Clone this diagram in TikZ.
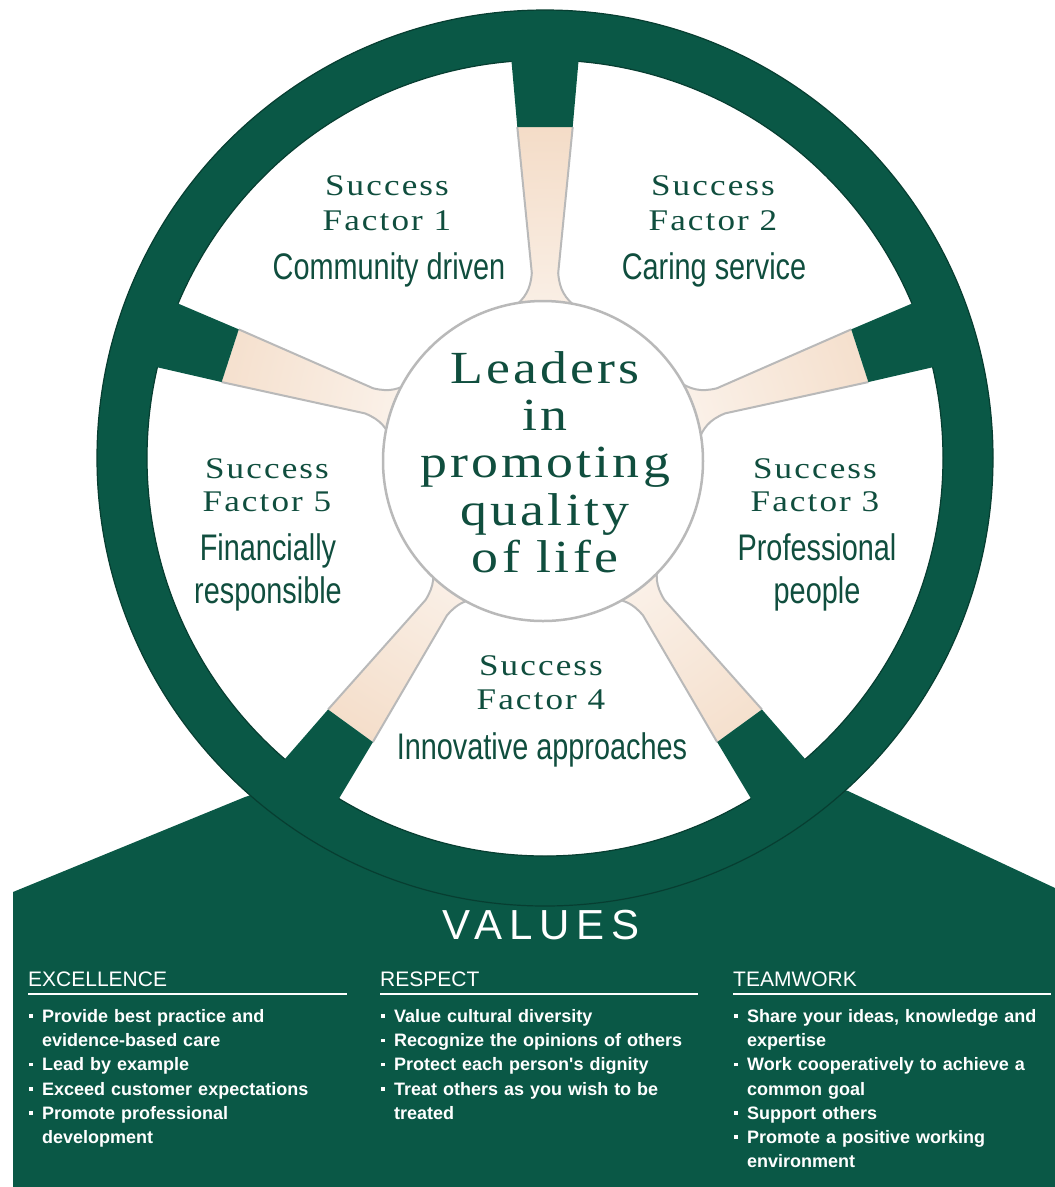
\documentclass[tikz,border=0pt]{standalone}
\usepackage{fontspec}
\setmainfont{Liberation Serif}
\newfontfamily\serifwide[LetterSpace=7,FakeStretch=1.17]{Liberation Serif}
\newfontfamily\narrowsans[FakeStretch=0.78]{Liberation Sans}
\newfontfamily\plainsans{Liberation Sans}
\newfontfamily\valuesfont[LetterSpace=16]{Liberation Sans}

\definecolor{wheelgreen}{RGB}{10,88,70}
\definecolor{inkgreen}{RGB}{16,78,62}
\definecolor{spokebeige}{RGB}{243,218,196}

\newcommand{\valitem}[1]{\par\noindent\makebox[14pt][l]{\hspace{1pt}\rule[4.5pt]{3.5pt}{3.5pt}}#1}
\newcommand{\valmore}[1]{\par\noindent\hspace*{14pt}#1}

\begin{document}
\begin{tikzpicture}[x=1pt,y=1pt,
  factorhead/.style={font=\serifwide\fontsize{30}{30}\selectfont, text=inkgreen, anchor=base, inner sep=0},
  factorname/.style={font=\narrowsans\fontsize{37}{37}\selectfont, text=inkgreen, anchor=base, inner sep=0},
  hubline/.style={font=\serifwide\fontsize{46}{46}\selectfont, text=inkgreen, anchor=base, inner sep=0},
  valhead/.style={font=\plainsans\fontsize{21}{21}\selectfont, text=white, anchor=base west, inner sep=0},
  vallist/.style={font=\plainsans\bfseries\fontsize{18}{24.2}\selectfont, text=white, anchor=north west, inner sep=0, text width=330pt, align=left},
  valrule/.style={white, line width=2pt},
  spokeedge/.style={draw=gray!55, line width=2pt}]
\path[use as bounding box, fill=white] (0,0) rectangle (1055,-1187);
\coordinate (wc) at (545,-458);
\coordinate (hc) at (543,-461);

% values block behind the wheel
\fill[wheelgreen] (13,-892) -- (245,-797) -- (545,-700) -- (848,-791)
  -- (1055,-888) -- (1055,-1187) -- (13,-1187) -- cycle;

% wheel
\fill[white] (wc) circle (398);
\path[fill=wheelgreen, draw=wheelgreen!70!black, line width=1.2pt, even odd rule]
  (wc) circle (448) (wc) circle (398);
\foreach \a in {90,18,-54,-126,162} {
  \begin{scope}[shift={(wc)}, rotate=\a-90]
    \begin{scope}
      \clip (-27.7,331) -- (-13.2,185) .. controls (-14.5,168) and (-20,160) .. (-32,150)
        -- (32,150) .. controls (20,160) and (14.5,168) .. (13.2,185) -- (27.7,331) -- cycle;
      \shade[inner color=white, outer color=spokebeige] (0,0) circle (350);
    \end{scope}
    \draw[spokeedge] (-27.7,331) -- (-13.2,185) .. controls (-14.5,168) and (-20,160) .. (-32,150)
      (32,150) .. controls (20,160) and (14.5,168) .. (13.2,185) -- (27.7,331);
    \fill[wheelgreen] (-27.7,331) -- (27.7,331) -- (36,425) -- (-36,425) -- cycle;
  \end{scope}
}
\filldraw[fill=white, draw=gray!55, line width=2.5pt] (hc) circle (160);

% success factors
\path (387,-195) node[factorhead] (sf1a) {Success}
      (387,-230) node[factorhead] (sf1b) {Factor 1}
      (389,-279) node[factorname] (sf1c) {Community driven}
      (713,-195) node[factorhead] (sf2a) {Success}
      (713,-230) node[factorhead] (sf2b) {Factor 2}
      (714,-279) node[factorname] (sf2c) {Caring service}
      (815,-478) node[factorhead] (sf3a) {Success}
      (815,-511) node[factorhead] (sf3b) {Factor 3}
      (817,-560) node[factorname] (sf3c) {Professional}
      (817,-603) node[factorname] (sf3d) {people}
      (541,-675) node[factorhead] (sf4a) {Success}
      (541,-709) node[factorhead] (sf4b) {Factor 4}
      (542,-759) node[factorname] (sf4c) {Innovative approaches}
      (267,-478) node[factorhead] (sf5a) {Success}
      (267,-511) node[factorhead] (sf5b) {Factor 5}
      (268,-560) node[factorname] (sf5c) {Financially}
      (268,-603) node[factorname] (sf5d) {responsible};

% hub
\path (545,-383) node[hubline] (hub1) {Leaders}
      (545,-430) node[hubline] (hub2) {in}
      (545,-477) node[hubline] (hub3) {promoting}
      (545,-525) node[hubline] (hub4) {quality}
      (545,-572) node[hubline] (hub5) {of life};

% values
\path (541,-939) node[font=\valuesfont\fontsize{42}{42}\selectfont, text=white, anchor=base, inner sep=0] (values) {VALUES}
      (28,-986) node[valhead] (exc) {EXCELLENCE}
      (380,-986) node[valhead] (resp) {RESPECT}
      (733,-986) node[valhead] (team) {TEAMWORK};
\draw[valrule] ([yshift=-8pt]exc.base west) -- ++(319,0);
\draw[valrule] ([yshift=-8pt]resp.base west) -- ++(318,0);
\draw[valrule] ([yshift=-8pt]team.base west) -- ++(318,0);

\path (28,-998) node[vallist] (excl) {\valitem{Provide best practice and}\valmore{evidence-based care}%
        \valitem{Lead by example}\valitem{Exceed customer expectations}%
        \valitem{Promote professional}\valmore{development}}
      (380,-998) node[vallist] (respl) {\valitem{Value cultural diversity}%
        \valitem{Recognize the opinions of others}\valitem{Protect each person's dignity}%
        \valitem{Treat others as you wish to be}\valmore{treated}}
      (733,-998) node[vallist] (teaml) {\valitem{Share your ideas, knowledge and}\valmore{expertise}%
        \valitem{Work cooperatively to achieve a}\valmore{common goal}%
        \valitem{Support others}\valitem{Promote a positive working}\valmore{environment}};
\end{tikzpicture}
\end{document}
